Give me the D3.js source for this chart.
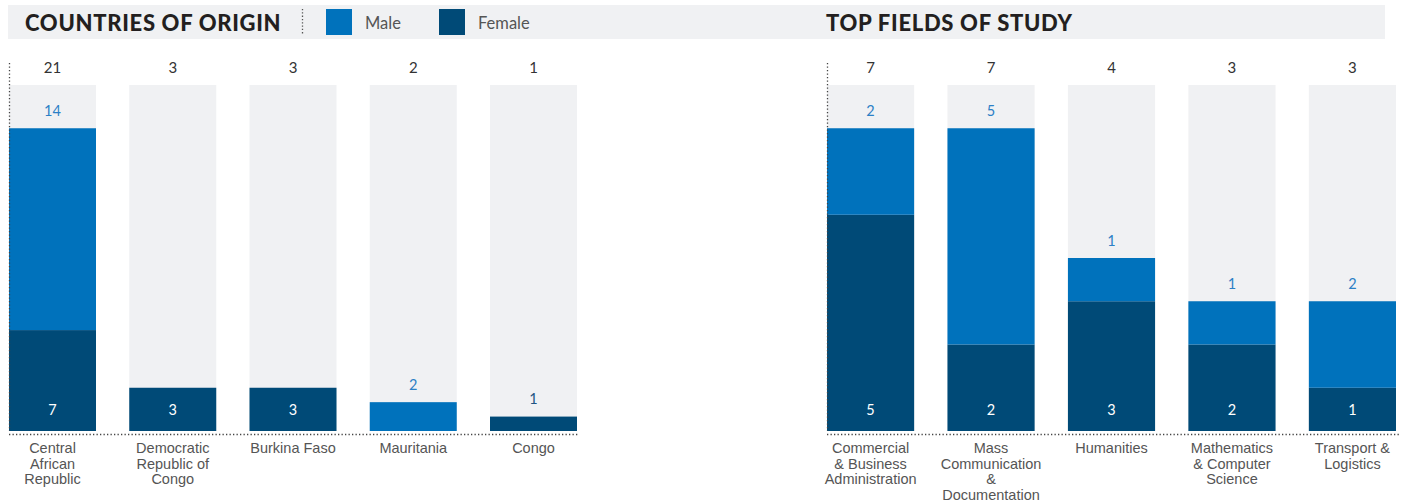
<!DOCTYPE html>
<html><head><meta charset="utf-8">
<script src="https://cdn.jsdelivr.net/npm/d3@7"></script>
<style>
html,body{margin:0;padding:0;background:#fff;}
svg{display:block;font-family:Lato,"Open Sans",sans-serif;}
</style></head>
<body>
<svg id="chart" width="1402" height="501"></svg>
<script>
// ---- data ----
const countries = ["Central\nAfrican\nRepublic", "Democratic\nRepublic of\nCongo", "Burkina Faso", "Mauritania", "Congo"];
const countriesMale = [14, 0, 0, 2, 0];
const countriesFemale = [7, 3, 3, 0, 1];
const countriesMax = 24;

const fields = ["Commercial\n& Business\nAdministration", "Mass\nCommunication\n&\nDocumentation", "Humanities", "Mathematics\n& Computer\nScience", "Transport &\nLogistics"];
const fieldsMale = [2, 5, 1, 1, 2];
const fieldsFemale = [5, 2, 3, 2, 1];
const fieldsMax = 8;

const legendLabels = ["Male", "Female"];
const titles = ["COUNTRIES OF ORIGIN", "TOP FIELDS OF STUDY"];

const MALE = "#0072bc", FEMALE = "#004a77", BG = "#f0f1f3";
const MALE_TXT = "#2c80c6", FEMALE_TXT = "#1f5582";

const svg = d3.select("#chart");

// header band
svg.append("rect").attr("x", 8).attr("y", 5).attr("width", 1377).attr("height", 34).attr("fill", BG);
svg.append("text").attr("x", 25).attr("y", 31).attr("font-size", 22).attr("font-weight", 900)
  .attr("letter-spacing", 0.7).attr("fill", "#231f20").text(titles[0]);
svg.append("text").attr("x", 826).attr("y", 31).attr("font-size", 22).attr("font-weight", 900)
  .attr("letter-spacing", 0.7).attr("fill", "#231f20").text(titles[1]);
svg.append("line").attr("x1", 302.5).attr("x2", 302.5).attr("y1", 9).attr("y2", 35)
  .attr("stroke", "#555").attr("stroke-width", 1.3).attr("stroke-dasharray", "1.3,2");
const legX = [326, 439];
const legC = [MALE, FEMALE];
legendLabels.forEach((l, i) => {
  svg.append("rect").attr("x", legX[i]).attr("y", 9).attr("width", 26).attr("height", 26).attr("fill", legC[i]);
  svg.append("text").attr("x", legX[i] + 39).attr("y", 29).attr("font-size", 16.5).attr("fill", "#555").text(l);
});

function drawChart(cats, male, female, yMax, x0, x1, axisEnd) {
  const g = svg.append("g");
  const x = d3.scaleBand().domain(cats).range([x0, x1]).paddingInner(0.2765).paddingOuter(0);
  const y = d3.scaleLinear().domain([0, yMax]).range([431, 85]);
  const bw = x.bandwidth();
  const data = cats.map((c, i) => ({c, m: male[i], f: female[i]}));

  // background
  g.selectAll(".bg").data(data).join("rect").attr("x", d => x(d.c)).attr("width", bw)
    .attr("y", y(yMax)).attr("height", y(0) - y(yMax)).attr("fill", BG);
  // female
  g.selectAll(".f").data(data).join("rect").attr("x", d => x(d.c)).attr("width", bw)
    .attr("y", d => y(d.f)).attr("height", d => y(0) - y(d.f)).attr("fill", FEMALE);
  // male
  g.selectAll(".m").data(data).join("rect").attr("x", d => x(d.c)).attr("width", bw)
    .attr("y", d => y(d.f + d.m)).attr("height", d => y(d.f) - y(d.f + d.m)).attr("fill", MALE);

  // totals
  g.selectAll(".tot").data(data).join("text").attr("x", d => x(d.c) + bw / 2).attr("y", 73)
    .attr("text-anchor", "middle").attr("font-size", 15).attr("fill", "#333").text(d => d.f + d.m);

  // male labels (above stack)
  g.selectAll(".ml").data(data.filter(d => d.m > 0)).join("text").attr("x", d => x(d.c) + bw / 2)
    .attr("y", d => y(d.f + d.m) - 12.5).attr("text-anchor", "middle").attr("font-size", 14.5)
    .attr("fill", MALE_TXT).text(d => d.m);

  // female labels
  data.filter(d => d.f > 0).forEach(d => {
    const h = y(0) - y(d.f);
    const inside = h >= 30;
    g.append("text").attr("x", x(d.c) + bw / 2)
      .attr("y", inside ? y(0) - 16 : y(d.f + d.m) - 12.5)
      .attr("text-anchor", "middle").attr("font-size", 14.5)
      .attr("fill", inside ? "#fff" : FEMALE_TXT).text(d.f);
  });

  // baseline dotted
  g.append("line").attr("x1", x0).attr("x2", axisEnd).attr("y1", 434.5).attr("y2", 434.5)
    .attr("stroke", "#444").attr("stroke-width", 1.3).attr("stroke-dasharray", "1.3,2.2");
  // left dotted
  g.append("line").attr("x1", x0 + 0.5).attr("x2", x0 + 0.5).attr("y1", 63).attr("y2", 431)
    .attr("stroke", "#444").attr("stroke-width", 1.3).attr("stroke-dasharray", "1.3,2.2");

  // category labels
  const xa = d3.axisBottom(x).tickSize(0).tickFormat("");
  const ag = g.append("g").attr("transform", "translate(0,436)").call(xa);
  ag.select(".domain").remove();
  ag.selectAll(".tick").each(function(c) {
    const t = d3.select(this).append("text").attr("text-anchor", "middle").attr("font-size", 14.5)
      .attr("fill", "#555").attr("y", 17);
    c.split("\n").forEach((line, i) => {
      t.append("tspan").attr("x", 0).attr("dy", i === 0 ? 0 : 15.5).text(line);
    });
  });
}

drawChart(countries, countriesMale, countriesFemale, countriesMax, 9, 577, 578);
drawChart(fields, fieldsMale, fieldsFemale, fieldsMax, 827, 1396, 1400);
</script>
</body></html>
